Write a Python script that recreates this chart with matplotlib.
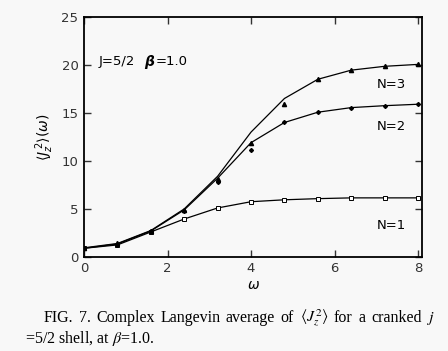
import numpy as np
import matplotlib.pyplot as plt

omega = [0.0, 0.8, 1.6, 2.4, 3.2, 4.0, 4.8, 5.6, 6.4, 7.2, 8.0]

# exact curves
n1_line = [0.9, 1.25, 2.6, 3.95, 5.1, 5.75, 5.95, 6.07, 6.15, 6.15, 6.15]
n2_line = [0.9, 1.35, 2.7, 4.9, 8.2, 11.9, 14.0, 15.07, 15.55, 15.75, 15.9]
n3_line = [0.95, 1.4, 2.75, 5.0, 8.4, 13.0, 16.5, 18.5, 19.45, 19.85, 20.05]

# Complex Langevin points
n1_cl = [0.9, 1.25, 2.6, 3.95, 5.1, 5.75, 5.95, 6.07, 6.15, 6.15, 6.15]
n2_cl = [0.9, 1.2, 2.65, 4.8, 7.8, 11.1, 14.0, 15.07, 15.55, 15.7, 15.9]
n3_cl = [0.95, 1.4, 2.75, 4.9, 8.1, 11.85, 15.9, 18.5, 19.45, 19.85, 20.05]

bg = '#f8f8f8'
fig = plt.figure(figsize=(4.48, 3.51), dpi=100, facecolor=bg)
ax = fig.add_axes([0.1875, 0.268, 0.755, 0.684], facecolor=bg)

ax.plot(omega, n1_line, color='k', lw=0.9)
ax.plot(omega, n2_line, color='k', lw=0.9)
ax.plot(omega, n3_line, color='k', lw=0.9)
ax.plot(omega, n1_cl, ls='none', marker='s', ms=3, mfc='white', mec='k', mew=0.7)
ax.plot(omega, n2_cl, ls='none', marker='D', ms=2, color='k')
ax.plot(omega, n3_cl, ls='none', marker='^', ms=3, color='k')

ax.set_xlim(0, 8.1)
ax.set_ylim(0, 25)
ax.set_xticks([0, 2, 4, 6, 8])
ax.set_yticks([0, 5, 10, 15, 20, 25])
ax.tick_params(direction='in', top=True, right=True, length=5, width=1,
               labelsize=9.5, colors='#333333', pad=4)
for s in ax.spines.values():
    s.set_linewidth(1.3)

ax.set_xlabel(r'$\omega$', fontsize=10, labelpad=2)
ax.set_ylabel(r'$\langle J_z^{\,2}\rangle(\omega)$', fontsize=10, labelpad=4)

ax.text(0.35, 20.3, 'J=5/2', fontsize=9.5, va='center')
ax.text(1.45, 20.3, 'β', fontsize=10, va='center', fontweight='bold',
        fontstyle='italic')
ax.text(1.72, 20.3, '=1.0', fontsize=9.5, va='center')
ax.text(7.0, 18.0, 'N=3', fontsize=9.5, va='center')
ax.text(7.0, 13.6, 'N=2', fontsize=9.5, va='center')
ax.text(7.0, 3.3, 'N=1', fontsize=9.5, va='center')

# caption, spread out word by word like the justified original
words = ['FIG.', '7.', 'Complex', 'Langevin', 'average', 'of',
         r'$\langle J_z^2\rangle$', 'for', 'a', 'cranked', r'$j$']
x0, x1 = 0.097, 0.972
r = fig.canvas.get_renderer()
texts = [fig.text(0, 0.094, w, fontsize=11.5, family='Liberation Serif',
                  math_fontfamily='stix', va='center') for w in words]
widths = [t.get_window_extent(r).width / fig.bbox.width for t in texts]
gap = (x1 - x0 - sum(widths)) / (len(words) - 1)
x = x0
for t, w in zip(texts, widths):
    t.set_x(x)
    x += w + gap
fig.text(0.055, 0.036, r'=5/2 shell, at $\beta$=1.0.', fontsize=11.5,
         family='Liberation Serif', math_fontfamily='stix', va='center')

fig.savefig('out.png', dpi=100, facecolor=bg)
